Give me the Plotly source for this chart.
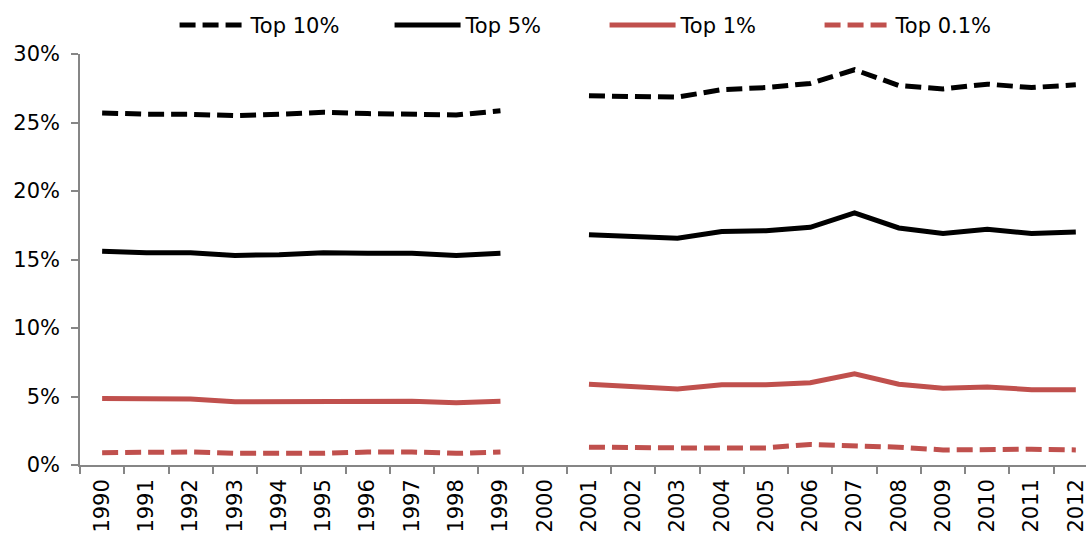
import plotly.graph_objects as go

years = [str(y) for y in range(1990, 2013)]

# Income shares (%) by year; 2000 has no observation
top10 = [25.7, 25.6, 25.6, 25.5, 25.6, 25.75, 25.65, 25.6, 25.55, 25.85,
         None,
         26.95, 26.9, 26.85, 27.4, 27.55, 27.85, 28.85, 27.7, 27.45, 27.8, 27.55, 27.75]
top5 = [15.6, 15.5, 15.5, 15.3, 15.35, 15.5, 15.45, 15.45, 15.3, 15.45,
        None,
        16.8, 16.7, 16.55, 17.05, 17.1, 17.35, 18.4, 17.3, 16.9, 17.2, 16.9, 17.0]
top1 = [4.85, 4.8, 4.82, 4.62, 4.62, 4.67, 4.68, 4.65, 4.55, 4.65,
        None,
        5.9, 5.75, 5.55, 5.85, 5.85, 6.0, 6.65, 5.9, 5.6, 5.7, 5.5, 5.5]
top01 = [0.9, 0.92, 0.95, 0.85, 0.85, 0.85, 0.95, 0.95, 0.85, 0.95,
         None,
         1.3, 1.25, 1.25, 1.25, 1.25, 1.5, 1.4, 1.3, 1.1, 1.15, 1.15, 1.1]

BLACK = "#000000"
RED = "#C0504D"
DASH = "16px,7px"

series = [
    ("Top 10%", top10, BLACK, DASH),
    ("Top 5%", top5, BLACK, "solid"),
    ("Top 1%", top1, RED, "solid"),
    ("Top 0.1%", top01, RED, DASH),
]

fig = go.Figure()
for name, vals, color, dash in series:
    fig.add_trace(go.Scatter(
        x=years, y=vals, name=name, mode="lines",
        line=dict(color=color, width=5, dash=dash),
        connectgaps=False,
    ))

axis_grey = "#868686"
FS = 21
font = dict(family="DejaVu Sans, Verdana, sans-serif", size=FS, color="#000000")

fig.update_layout(
    width=1088, height=534,
    margin=dict(l=80, r=0, t=54, b=69),
    paper_bgcolor="white", plot_bgcolor="white",
    font=font,
    showlegend=True,
    legend=dict(orientation="h", x=0.094, xanchor="left", y=1.02, yanchor="bottom",
                font=dict(size=FS), itemwidth=66, entrywidth=134, traceorder="normal"),
    xaxis=dict(
        type="category", categoryorder="array", categoryarray=years,
        range=[-0.5, 22.23],
        tickson="boundaries", ticks="outside", ticklen=7, tickcolor=axis_grey, tickwidth=1.5,
        showline=True, linecolor=axis_grey, linewidth=1.5,
        showgrid=False, tickangle=-90, tickfont=dict(size=FS), ticklabelstandoff=4,
    ),
    yaxis=dict(
        range=[0, 30], dtick=5, ticksuffix="%",
        ticks="outside", ticklen=7, tickcolor=axis_grey, tickwidth=1.5,
        showline=True, linecolor=axis_grey, linewidth=1.5,
        showgrid=False, zeroline=False, tickfont=dict(size=FS), ticklabelstandoff=7,
    ),
)

fig.write_html("out.html")
